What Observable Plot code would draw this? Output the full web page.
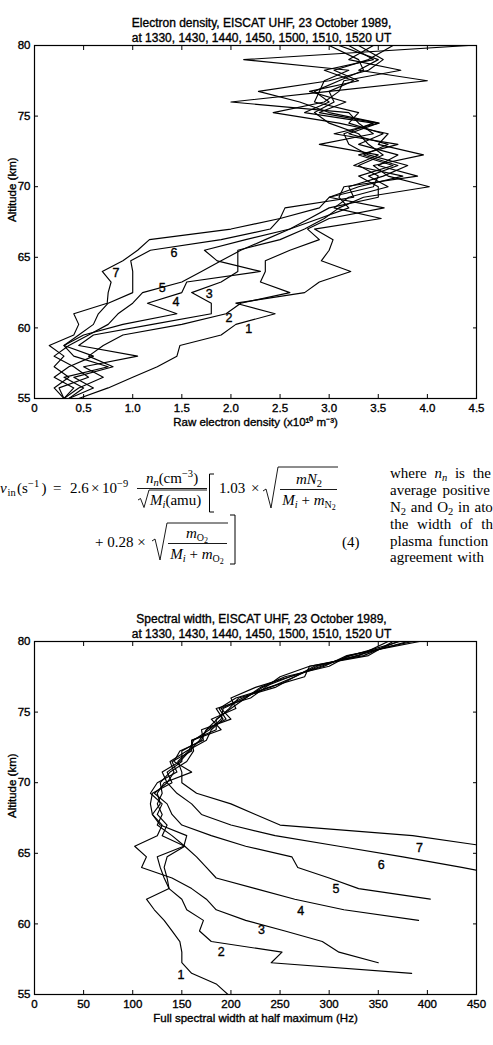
<!DOCTYPE html>
<html>
<head>
<meta charset="utf-8">
<script src="https://cdn.jsdelivr.net/npm/d3@7"></script>
<script src="https://cdn.jsdelivr.net/npm/@observablehq/plot@0.6"></script>
<style>
  html, body { margin: 0; padding: 0; background: #fff; }
  body { width: 493px; height: 1045px; overflow: hidden; position: relative; }
  #c1, #c2 { position: absolute; left: 0; }
  #c1 { top: 0; }
  #c2 { top: 596px; }
  #eq { position: absolute; left: 0; top: 440px; }
  #c1 svg text, #c2 svg text { stroke: #000; stroke-width: 0.35px; }
</style>
</head>
<body>
<div id="c1"></div>
<svg id="eq" width="493" height="156" viewBox="0 440 493 156" font-family="'Liberation Serif','Times New Roman',serif" font-size="15" fill="#000">
  <!-- line 1 -->
  <text y="493"><tspan x="0" font-style="italic">ν</tspan><tspan x="7.5" dy="3" font-size="10.5">in</tspan><tspan x="17" dy="-3">(s</tspan><tspan x="28" dy="-6" font-size="10.5">−1</tspan><tspan x="41.5" dy="6">)</tspan><tspan x="53">=</tspan><tspan x="70">2.6</tspan><tspan x="91">×</tspan><tspan x="102">10</tspan><tspan x="117" dy="-6" font-size="10.5">−9</tspan></text>
  <text x="172" y="483" text-anchor="middle"><tspan font-style="italic">n</tspan><tspan font-style="italic" font-size="10.5" dy="3">n</tspan><tspan dy="-3">(cm</tspan><tspan font-size="10.5" dy="-6">−3</tspan><tspan dy="6">)</tspan></text>
  <line x1="137" x2="207" y1="488.5" y2="488.5" stroke="#000" stroke-width="0.9"/>
  <path d="M138,500 l2.5,-1.5 l3.5,9 l5,-17.5 H207" fill="none" stroke="#000" stroke-width="0.9"/>
  <text x="150" y="505"><tspan font-style="italic">M</tspan><tspan font-style="italic" font-size="10.5" dy="3">i</tspan><tspan dy="-3">(amu)</tspan></text>
  <path d="M214,474 H209.5 V512 H214" fill="none" stroke="#000" stroke-width="1"/>
  <text y="493"><tspan x="219">1.03</tspan><tspan x="251">×</tspan></text>
  <path d="M263,491 l3,-2 l5,19 l7,-41 H338" fill="none" stroke="#000" stroke-width="0.9"/>
  <text x="309" y="484" text-anchor="middle"><tspan font-style="italic">mN</tspan><tspan font-size="10.5" dy="3">2</tspan></text>
  <line x1="280" x2="337" y1="489.5" y2="489.5" stroke="#000" stroke-width="0.9"/>
  <text x="309" y="505" text-anchor="middle"><tspan font-style="italic">M</tspan><tspan font-style="italic" font-size="10.5" dy="3">i</tspan><tspan dy="-3"> + </tspan><tspan font-style="italic">m</tspan><tspan font-size="10" dy="3">N</tspan><tspan font-size="8" dy="2">2</tspan></text>
  <!-- line 2 -->
  <text x="95" y="547">+ 0.28 ×</text>
  <path d="M152,541 l3,-2 l5,21 l7,-37 H228" fill="none" stroke="#000" stroke-width="0.9"/>
  <text x="197" y="538" text-anchor="middle"><tspan font-style="italic">m</tspan><tspan font-size="10" dy="3">O</tspan><tspan font-size="8" dy="2">2</tspan></text>
  <line x1="168" x2="227" y1="543.5" y2="543.5" stroke="#000" stroke-width="0.9"/>
  <text x="197" y="559" text-anchor="middle"><tspan font-style="italic">M</tspan><tspan font-style="italic" font-size="10.5" dy="3">i</tspan><tspan dy="-3"> + </tspan><tspan font-style="italic">m</tspan><tspan font-size="10" dy="3">O</tspan><tspan font-size="8" dy="2">2</tspan></text>
  <path d="M230,515 H235 V564 H230" fill="none" stroke="#000" stroke-width="1"/>
  <text x="342" y="547">(4)</text>
  <!-- right column (as visible at the page edge) -->
  <text x="390" y="478" word-spacing="4">where <tspan font-style="italic">n</tspan><tspan font-style="italic" font-size="10.5" dy="3">n</tspan><tspan dy="-3"> is the</tspan></text>
  <text x="390" y="495" word-spacing="2">average positive</text>
  <text x="390" y="512" word-spacing="1">N<tspan font-size="10.5" dy="3">2</tspan><tspan dy="-3"> and O</tspan><tspan font-size="10.5" dy="3">2</tspan><tspan dy="-3"> in ato</tspan></text>
  <text x="390" y="529" word-spacing="5">the width of th</text>
  <text x="390" y="546" word-spacing="2">plasma function</text>
  <text x="390" y="562" word-spacing="1">agreement with</text>
</svg>
<div id="c2"></div>
<script>
// ---------- shared ----------
const ALT = [55, 55.75, 56.5, 57.25, 58, 58.75, 59.5, 60.25, 61, 61.75, 62.5, 63.25, 64, 64.75,
             65.5, 66.25, 67, 67.75, 68.5, 69.25, 70, 70.75, 71.5, 72.25, 73, 73.75, 74.5, 75.25,
             76, 76.75, 77.5, 78.25, 79, 80];
const CURVES = ["1", "2", "3", "4", "5", "6", "7"];
const Y_TICKS = [55, 60, 65, 70, 75, 80];

// ---------- electron density (x10^10 m^-3) ----------
const ne1 = [0.45, 0.75, 1.0, 1.25, 1.45, 1.48, 1.9, 2.05, 2.45, 2.05, 2.75, 2.9, 3.22, 2.92, 3.0, 3.04, 2.85, 3.53, 3.05,
             3.2, 3.6, 3.4, 3.7, 3.35, 3.6, 3.2, 3.5, 2.9, 3.17, 2.8, 3.3, 3.05, 3.4, 3.65];
const ne2 = [0.35, 0.6, 0.4, 0.8, 0.55, 0.7, 0.9, 1.5, 1.95, 2.1, 2.6, 2.3, 2.35, 2.35, 2.6, 2.9, 2.78, 3.0, 3.56,
             3.0, 3.3, 3.75, 3.25, 3.5, 2.9, 3.45, 3.3, 3.2, 2.0, 3.0, 4.0, 3.3, 3.5, 3.1];
const ne3 = [0.3, 0.45, 0.7, 0.5, 1.05, 0.45, 0.6, 1.2, 1.8, 1.8, 1.6, 1.9, 2.07, 2.07, 2.07, 2.5, 2.75, 2.95, 3.1,
             3.35, 4.02, 3.6, 3.45, 3.96, 3.5, 3.6, 3.1, 2.43, 2.95, 3.1, 3.15, 3.73, 3.2, 3.45];
const ne4 = [0.35, 0.5, 0.3, 0.75, 0.4, 0.3, 0.5, 0.9, 1.45, 1.15, 1.5, 1.55, 2.3, 1.86, 1.73, 2.15, 2.6, 2.8, 3.0,
             3.5, 3.5, 3.3, 3.65, 3.3, 3.7, 3.05, 3.51, 3.0, 2.7, 2.28, 3.0, 3.4, 3.55, 3.3];
const ne5 = [0.3, 0.25, 0.55, 0.4, 0.2, 0.35, 0.55, 0.75, 0.85, 1.0, 1.1, 1.5, 1.7, 1.9, 2.1, 2.35, 2.6, 2.9, 3.2,
             3.1, 3.15, 3.9, 3.5, 3.7, 3.3, 3.55, 3.2, 3.3, 2.85, 2.9, 2.95, 3.2, 2.13, 4.42];
const ne6 = [0.3, 0.4, 0.2, 0.35, 0.6, 0.3, 0.45, 0.6, 0.65, 0.75, 1.0, 1.0, 1.0, 0.98, 1.18, 1.9, 2.4, 2.5, 2.9,
             3.0, 3.45, 3.5, 3.3, 3.55, 3.4, 3.3, 3.0, 2.85, 3.05, 3.0, 3.25, 2.95, 3.45, 3.2];
const ne7 = [0.3, 0.2, 0.35, 0.2, 0.3, 0.15, 0.4, 0.45, 0.4, 0.74, 0.75, 0.78, 0.69, 0.9, 1.05, 1.17, 2.0, 2.5, 2.55,
             3.25, 3.2, 3.55, 3.8, 3.4, 3.2, 3.15, 3.45, 2.75, 3.0, 2.85, 3.1, 3.35, 3.3, 3.0];
const NE_TICKS = [0, 0.5, 1.0, 1.5, 2.0, 2.5, 3.0, 3.5, 4.0, 4.5];
const NE_LABEL_X = [2.18, 1.98, 1.78, 1.44, 1.3, 1.42, 0.83];
const NE_LABEL_ALT = [59.9, 60.7, 62.4, 61.8, 62.8, 65.3, 63.9];

// ---------- spectral width (Hz) ----------
const sw1 = [197, 185, 160, 150, 150, 148, 140, 132, 122, 114, 137, 132, 128, 125, 152, 155, 128, 120, 118,
             120, 140, 135, 150, 150, 170, 175, 195, 188, 205, 240, 265, 285, 330, 360];
const sw2 = [null, null, 384, 241, 252, 180, 168, 172, 155, 150, 137, 135, 132, 135, 153, 130, 135, 125, 130,
             118, 125, 145, 140, 160, 160, 185, 185, 200, 215, 230, 255, 300, 320, 385];
const sw3 = [null, null, null, 350, 310, 293, 255, 215, 185, 175, 160, 140, 109, 114, 102, 125, 130, 120, 128,
             125, 132, 160, 142, 148, 172, 170, 200, 190, 212, 238, 275, 280, 335, 370];
const sw4 = [null, null, null, null, null, null, null, 391, 315, 265, 225, 185, 175, 165, 153, 140, 125, 130, 125,
             130, 128, 138, 155, 162, 160, 190, 180, 205, 200, 225, 260, 295, 318, 392];
const sw5 = [null, null, null, null, null, null, null, null, null, 403, 330, 300, 268, 262, 215, 180, 150, 140, 135,
             122, 135, 142, 138, 155, 175, 180, 192, 185, 220, 235, 250, 280, 340, 365];
const sw6 = [null, null, null, null, null, null, null, null, null, null, null, 490, 435, 375, 310, 245, 200, 170, 160,
             145, 135, 130, 148, 158, 168, 175, 186, 198, 208, 245, 265, 288, 328, 380];
const sw7 = [null, null, null, null, null, null, null, null, null, null, null, null, null, null, 460, 385, 250, 225, 200,
             165, 150, 150, 146, 157, 162, 178, 190, 192, 215, 232, 260, 292, 322, 372];
const SW_TICKS = [0, 50, 100, 150, 200, 250, 300, 350, 400, 450];
const SW_LABEL_X = [149, 190, 231, 271, 307, 353, 392];
const SW_LABEL_ALT = [56.4, 58.0, 59.6, 60.9, 62.5, 64.2, 65.4];

function tidy(series) {
  return series.flatMap((arr, k) =>
    arr.map((v, i) => ({curve: CURVES[k], alt: ALT[i], v})).filter(d => d.v != null));
}

function chart({data, xDomain, xTicks, xFmt, labX, labAlt, title1, title2, xLabel}) {
  return Plot.plot({
    width: 493, height: 440,
    marginTop: 45, marginBottom: 42, marginLeft: 34, marginRight: 17,
    x: {domain: xDomain},
    y: {domain: [55, 80]},
    style: {fontFamily: "'Liberation Sans', Arial, Helvetica, sans-serif", fontSize: "11.5px", color: "#000", background: "#fff", overflow: "visible"},
    marks: [
      Plot.line(data, {x: "v", y: "alt", z: "curve", stroke: "#000", strokeWidth: 1.15, clip: true}),
      Plot.frame({stroke: "#000", strokeWidth: 1.2}),
      Plot.axisX({ticks: xTicks, tickFormat: xFmt, tickSize: -4, tickPadding: 9, label: null, stroke: "#000"}),
      Plot.axisX({anchor: "top", ticks: xTicks, tickFormat: () => "", tickSize: -4, label: null, stroke: "#000"}),
      Plot.axisY({ticks: Y_TICKS, tickSize: -4, tickPadding: 8, label: null, stroke: "#000"}),
      Plot.axisY({anchor: "right", ticks: Y_TICKS, tickFormat: () => "", tickSize: -4, label: null, stroke: "#000"}),
      Plot.text(CURVES, {x: labX, y: labAlt, text: d => d, fontSize: 12.5, fill: "#000"}),
      Plot.text([title1], {frameAnchor: "top", text: d => d, dy: -27, dx: 6, fontSize: 12, fill: "#000"}),
      Plot.text([title2], {frameAnchor: "top", text: d => d, dy: -12, dx: 6, fontSize: 12, fill: "#000"}),
      Plot.text([xLabel], {frameAnchor: "bottom", text: d => d, dy: 27, fontSize: 11.5, fill: "#000"}),
      Plot.text(["Altitude (km)"], {frameAnchor: "left", text: d => d, dx: -22, rotate: -90, fontSize: 11.5, fill: "#000"})
    ]
  });
}

document.getElementById("c1").append(chart({
  data: tidy([ne1, ne2, ne3, ne4, ne5, ne6, ne7]),
  xDomain: [0, 4.5], xTicks: NE_TICKS,
  xFmt: d => d === 0 ? "0" : d.toFixed(1),
  labX: NE_LABEL_X, labAlt: NE_LABEL_ALT,
  title1: "Electron density, EISCAT UHF, 23 October 1989,",
  title2: "at 1330, 1430, 1440, 1450, 1500, 1510, 1520 UT",
  xLabel: "Raw electron density (x10¹⁰ m⁻³)"
}));

document.getElementById("c2").append(chart({
  data: tidy([sw1, sw2, sw3, sw4, sw5, sw6, sw7]),
  xDomain: [0, 450], xTicks: SW_TICKS,
  xFmt: d => String(d),
  labX: SW_LABEL_X, labAlt: SW_LABEL_ALT,
  title1: "Spectral width, EISCAT UHF, 23 October 1989,",
  title2: "at 1330, 1430, 1440, 1450, 1500, 1510, 1520 UT",
  xLabel: "Full spectral width at half maximum (Hz)"
}));
</script>
</body>
</html>
